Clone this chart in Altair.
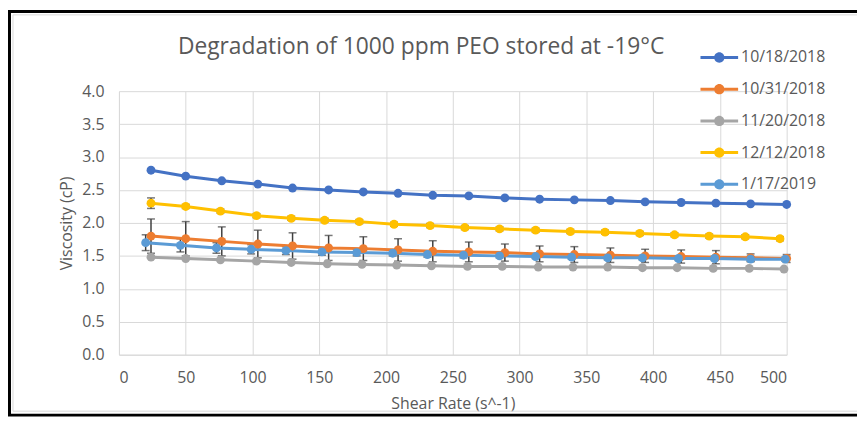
import altair as alt
import pandas as pd

FONT = "Open Sans"
TXT = "#595959"
GRID = "#D9D9D9"
ERRC = "#404040"

series = ["10/18/2018", "10/31/2018", "11/20/2018", "12/12/2018", "1/17/2019"]
colors = ["#4472C4", "#ED7D31", "#A5A5A5", "#FFC000", "#5B9BD5"]

# shear rate (s^-1) per series
x_1018 = [24, 50, 77, 104, 130, 157, 183, 209, 235, 262, 289, 315, 341, 368, 394, 421, 447, 473, 500]
x_1031 = [24, 50, 77, 104, 130, 157, 183, 209, 235, 262, 289, 315, 341, 368, 394, 421, 447, 473, 500]
x_1120 = [24, 50, 76, 103, 129, 156, 182, 208, 234, 261, 287, 314, 340, 366, 392, 418, 445, 472, 498]
x_1212 = [24, 50, 76, 103, 129, 154, 180, 206, 233, 259, 285, 312, 338, 364, 390, 416, 442, 469, 495]
x_0117 = [20, 46, 73, 99, 125, 152, 178, 205, 231, 258, 285, 312, 339, 366, 392, 419, 446, 473, 499]

# viscosity (cP)
y_1018 = [2.80, 2.71, 2.64, 2.59, 2.53, 2.50, 2.47, 2.45, 2.42, 2.41, 2.38, 2.36, 2.35, 2.34, 2.32, 2.31, 2.30, 2.29, 2.28]
y_1031 = [1.80, 1.76, 1.72, 1.68, 1.65, 1.62, 1.61, 1.59, 1.57, 1.56, 1.55, 1.53, 1.52, 1.51, 1.50, 1.49, 1.48, 1.47, 1.46]
y_1120 = [1.48, 1.46, 1.44, 1.42, 1.40, 1.38, 1.37, 1.36, 1.35, 1.34, 1.34, 1.33, 1.33, 1.33, 1.32, 1.32, 1.31, 1.31, 1.30]
y_1212 = [2.30, 2.25, 2.18, 2.11, 2.07, 2.04, 2.02, 1.98, 1.96, 1.93, 1.91, 1.89, 1.87, 1.86, 1.84, 1.82, 1.80, 1.79, 1.76]
y_0117 = [1.70, 1.66, 1.62, 1.60, 1.58, 1.56, 1.55, 1.54, 1.52, 1.51, 1.50, 1.49, 1.48, 1.47, 1.47, 1.46, 1.46, 1.45, 1.45]

# error bar half-widths (cP)
e_1018 = [0] * 19
e_1031 = [0.26, 0.26, 0.22, 0.21, 0.20, 0.19, 0.18, 0.17, 0.16, 0.15, 0.13, 0.12, 0.12, 0.11, 0.10, 0.10, 0.10, 0.06, 0.06]
e_1120 = [0] * 19
e_1212 = [0.08, 0.03, 0.03, 0.03, 0.03, 0.03, 0.03, 0.03, 0.03, 0.03, 0.03, 0.03, 0.03, 0.03, 0.03, 0.03, 0.03, 0.03, 0.03]
e_0117 = [0.12, 0.10, 0.08, 0.07, 0.06, 0.05, 0.05, 0.04, 0.04, 0.04, 0.03, 0.03, 0.03, 0.03, 0.03, 0.03, 0.03, 0.03, 0.03]

xs = [x_1018, x_1031, x_1120, x_1212, x_0117]
ys = [y_1018, y_1031, y_1120, y_1212, y_0117]
es = [e_1018, e_1031, e_1120, e_1212, e_0117]

rows = []
for s, xv, yv, ev in zip(series, xs, ys, es):
    for a, b, e in zip(xv, yv, ev):
        rows.append({"series": s, "x": a, "y": b, "lo": b - e, "hi": b + e, "err": e})
df = pd.DataFrame(rows)
err = df[df["err"] > 0]

W, H = 674, 266

xscale = alt.Scale(domain=[0, 500], nice=False)
yscale = alt.Scale(domain=[0, 4], nice=False)
xax = alt.Axis(values=list(range(0, 501, 50)), title="Shear Rate (s^-1)", labelPadding=15, titlePadding=10)
yax = alt.Axis(values=[0, 0.5, 1, 1.5, 2, 2.5, 3, 3.5, 4], format=".1f", title="Viscosity (cP)",
               labelPadding=15, titlePadding=7)
color_scale = alt.Scale(domain=series, range=colors)

sym = "M-1.9,-0.15H1.9V0.15H-1.9Z M-0.52,0A0.52,0.52,0,1,1,0.52,0A0.52,0.52,0,1,1,-0.52,0Z"
leg = alt.Legend(title=None, orient="none", legendX=596, legendY=-44,
                 symbolType=sym, symbolSize=400, symbolStrokeWidth=0,
                 labelFont=FONT, labelFontSize=16, labelColor=TXT,
                 labelOffset=12, rowPadding=14, padding=0)
cenc = alt.Color("series:N", scale=color_scale, sort=series, legend=leg)

X = lambda f: alt.X(f, scale=xscale, axis=xax)
Y = lambda f: alt.Y(f, scale=yscale, axis=yax)

one = pd.DataFrame({"a": [0]})
outer = alt.Chart(one).mark_rect(fillOpacity=0, stroke="black", strokeWidth=3).encode(
    x=alt.value(-110.5), x2=alt.value(770), y=alt.value(-80.5), y2=alt.value(327))
inner = alt.Chart(one).mark_rect(fillOpacity=0, stroke=GRID, strokeWidth=1).encode(
    x=alt.value(-107), x2=alt.value(770), y=alt.value(-77), y2=alt.value(323))

rules = alt.Chart(err).mark_rule(color=ERRC, strokeWidth=1.5).encode(
    x=X("x:Q"), y=Y("lo:Q"), y2="hi:Q")
cap_hi = alt.Chart(err).mark_tick(color=ERRC, orient="horizontal", size=8, thickness=1.5).encode(
    x=X("x:Q"), y=Y("hi:Q"))
cap_lo = alt.Chart(err).mark_tick(color=ERRC, orient="horizontal", size=8, thickness=1.5).encode(
    x=X("x:Q"), y=Y("lo:Q"))
lines = alt.Chart(df).mark_line(strokeWidth=3).encode(x=X("x:Q"), y=Y("y:Q"), color=cenc)
points = alt.Chart(df).mark_circle(size=80, opacity=1).encode(x=X("x:Q"), y=Y("y:Q"), color=cenc)

chart = alt.layer(outer, inner, rules, cap_hi, cap_lo, lines, points).properties(
    width=W, height=H,
    background="white",
    padding={"left": 112, "top": 82, "right": 71, "bottom": 67},
    autosize=alt.AutoSizeParams(type="none"),
    title=alt.TitleParams("Degradation of 1000 ppm PEO stored at -19°C", font=FONT, fontSize=23,
                          fontWeight="normal", color=TXT, anchor="middle", frame="group",
                          dx=-32, offset=-67, baseline="alphabetic"),
).configure_axis(
    grid=True, gridColor=GRID, gridWidth=1, domainColor=GRID, domainWidth=1,
    ticks=False, tickSize=0, labelFont=FONT, labelFontSize=16, labelColor=TXT,
    titleFont=FONT, titleFontSize=16, titleColor=TXT, titleFontWeight="normal"
).configure_view(stroke=None)

chart.save("out.html", embed_options={"renderer": "svg", "actions": False})
